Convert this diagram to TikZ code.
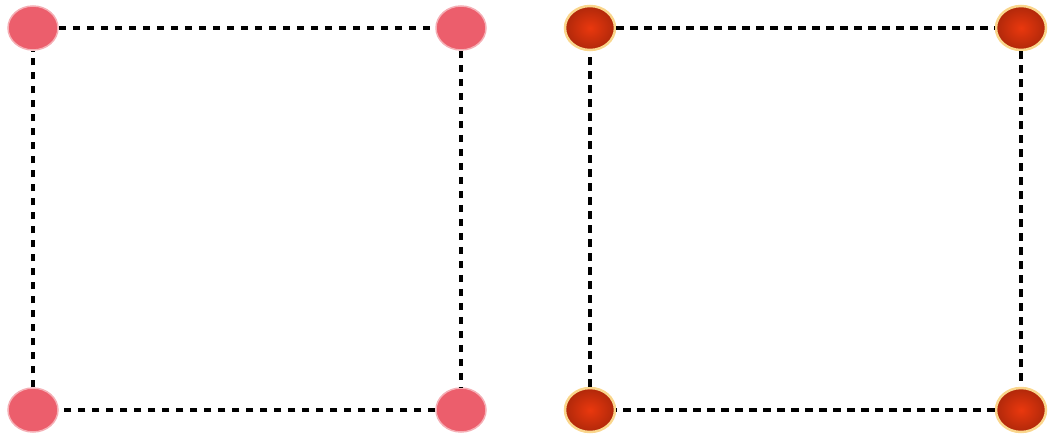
\documentclass[tikz,border=0pt]{standalone}
\usetikzlibrary{shapes.geometric}
\definecolor{pinkdot}{RGB}{236,94,108}
\definecolor{reddot}{RGB}{234,56,14}
\definecolor{reddark}{RGB}{176,40,10}
\definecolor{glow}{RGB}{250,214,140}
\tikzset{
  pinkball/.style={ellipse,minimum width=50pt,minimum height=44pt,inner sep=0pt,
    fill=pinkdot,draw=pinkdot!50!white,line width=1.5pt},
  redball/.style={ellipse,minimum width=50pt,minimum height=44pt,inner sep=0pt,
    inner color=reddot,outer color=reddark,draw=glow,line width=2.5pt},
  dotline/.style={line width=4.5pt,dash pattern=on 7.5pt off 6.5pt}
}
\begin{document}
\begin{tikzpicture}[x=1pt,y=-1pt]
  \useasboundingbox (0,0) rectangle (1049,439);
  % left square
  \node[pinkball] (lt) at (33,28) {};
  \node[pinkball] (rt) at (461,28) {};
  \node[pinkball] (lb) at (33,410) {};
  \node[pinkball] (rb) at (461,410) {};
  % right square
  \node[redball] (Lt) at (590,28) {};
  \node[redball] (Rt) at (1021,28) {};
  \node[redball] (Lb) at (590,410) {};
  \node[redball] (Rb) at (1021,410) {};
  \foreach \a/\b in {lt/rt,rt/rb,rb/lb,lb/lt,Lt/Rt,Rt/Rb,Rb/Lb,Lb/Lt}{
    \draw[dotline] (\a) -- (\b);
  }
\end{tikzpicture}
\end{document}
